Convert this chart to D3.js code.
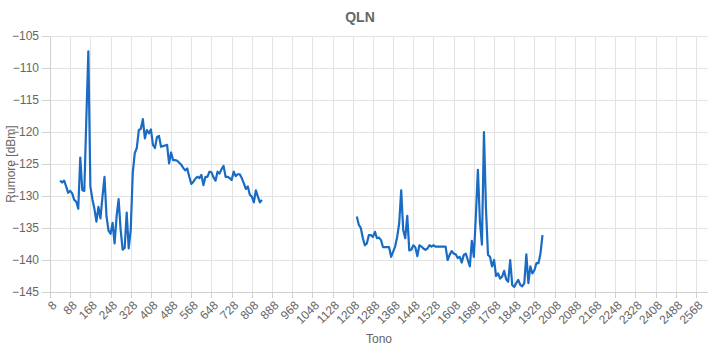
<!DOCTYPE html>
<html lang="en">
<head>
<meta charset="UTF-8">
<title>QLN</title>
<script src="https://d3js.org/d3.v7.min.js"></script>
<style>
  body { margin: 0; background: #fff; }
  svg { display: block; font-family: "Liberation Sans", Arial, sans-serif; }
  .grid line { stroke: #e3e3e3; shape-rendering: crispEdges; }
  .axis text { fill: #666; font-size: 12px; }
  .axis path, .axis line { stroke: #d0d0d0; shape-rendering: crispEdges; }
</style>
</head>
<body>
<svg width="720" height="350"></svg>
<script>
// tone step is 8; the two measured bands
const seg1Start = 48;
const seg1Values = [
  -127.6, -127.9, -127.6, -128.5, -129.5, -129.2, -129.6, -130.6, -130.9, -132.0,
  -124.0, -129.1, -129.2, -118.0, -107.4, -128.5, -130.5, -132.0, -134.0, -131.7,
  -133.5, -130.1, -127.0, -133.2, -135.4, -135.9, -134.2, -137.4, -133.2, -130.5,
  -135.3, -138.4, -138.1, -132.6, -138.2, -135.3, -126.4, -123.3, -122.5, -119.7,
  -119.5, -118.0, -121.0, -119.7, -120.2, -119.6, -122.0, -122.5, -120.8, -120.6,
  -122.3, -122.2, -122.1, -122.0, -124.9, -123.2, -124.4, -124.4, -124.5, -124.8,
  -125.1, -125.6, -126.0, -125.7, -127.0, -128.1, -127.8, -127.3, -127.0, -127.2,
  -126.7, -128.3, -127.0, -127.0, -126.2, -126.3, -127.1, -127.6, -126.2, -126.5,
  -125.8, -125.3, -127.0, -127.0, -127.2, -127.5, -126.2, -126.9, -126.6, -126.6,
  -127.2, -128.0, -128.9, -128.5, -129.8, -130.1, -131.0, -129.1, -130.1, -131.0,
  -130.6
];
const seg2Start = 1224;
const seg2Values = [
  -133.2, -134.5, -135.0, -136.6, -137.7, -137.4, -136.1, -136.1, -136.4, -135.6,
  -136.6, -136.5, -136.9, -138.0, -138.0, -138.0, -138.0, -139.5, -138.7, -137.9,
  -136.4, -134.3, -129.1, -135.3, -136.6, -133.1, -138.5, -138.4, -137.7, -138.0,
  -139.4, -137.7, -137.9, -138.2, -138.4, -138.2, -137.7, -137.9, -137.7, -137.9,
  -137.9, -137.9, -137.9, -137.9, -137.9, -140.0, -139.2, -138.6, -139.0, -139.1,
  -139.7, -139.5, -140.4, -139.2, -139.0, -140.0, -141.0, -137.0, -139.5, -133.0,
  -125.9, -134.0, -137.6, -120.0, -132.0, -139.2, -139.5, -141.0, -140.0, -142.5,
  -142.1, -142.9, -142.6, -141.7, -143.0, -143.4, -140.0, -143.9, -144.2, -143.6,
  -143.1, -143.9, -144.1, -143.6, -139.1, -143.6, -141.0, -142.1, -141.6, -140.5,
  -140.5, -139.0, -136.1
];
const toneStep = 8;
const toneLast = 2616;
const xTicks = [8, 88, 168, 248, 328, 408, 488, 568, 648, 728, 808, 888, 968, 1048,
  1128, 1208, 1288, 1368, 1448, 1528, 1608, 1688, 1768, 1848, 1928, 2008, 2088,
  2168, 2248, 2328, 2408, 2488, 2568];
const yTicks = [-105, -110, -115, -120, -125, -130, -135, -140, -145];

const svg = d3.select("svg"),
      margin = {top: 36, right: 12, bottom: 58, left: 50},
      width = +svg.attr("width") - margin.left - margin.right,
      height = +svg.attr("height") - margin.top - margin.bottom,
      g = svg.append("g").attr("transform", `translate(${margin.left},${margin.top})`);

const x = d3.scaleLinear().domain([8, toneLast]).range([0, width]);
const y = d3.scaleLinear().domain([-145, -105]).range([height, 0]);

// grid
g.append("g").attr("class", "grid")
  .selectAll("line").data(xTicks).join("line")
  .attr("x1", d => Math.round(x(d)) + 0.5).attr("x2", d => Math.round(x(d)) + 0.5)
  .attr("y1", 0).attr("y2", height);
g.append("g").attr("class", "grid")
  .selectAll("line").data(yTicks).join("line")
  .attr("x1", 0).attr("x2", width)
  .attr("y1", d => y(d)).attr("y2", d => y(d));

// axes
const xAxis = g.append("g")
  .attr("class", "axis")
  .attr("transform", `translate(0,${height})`)
  .call(d3.axisBottom(x).tickValues(xTicks).tickFormat(d3.format("d")).tickSizeOuter(0).tickSize(6));
xAxis.selectAll("text")
  .attr("x", 0).attr("y", 0)
  .attr("dy", "0.35em")
  .attr("text-anchor", "end")
  .attr("transform", "translate(4,11) rotate(-45)");
xAxis.select(".domain").attr("d", `M0,0.5H${width}`);

const yAxis = g.append("g")
  .attr("class", "axis")
  .call(d3.axisLeft(y).tickValues(yTicks).tickSize(8).tickSizeOuter(0).tickPadding(3));

// line
const line = d3.line().x(d => x(d[0])).y(d => y(d[1]));
[[seg1Start, seg1Values], [seg2Start, seg2Values]].forEach(([start, vals]) => {
  g.append("path")
    .datum(vals.map((v, i) => [start + i * toneStep, v]))
    .attr("fill", "none")
    .attr("stroke", "#1a6bc4")
    .attr("stroke-width", 2.2)
    .attr("stroke-linejoin", "round")
    .attr("d", line);
});

// labels
svg.append("text")
  .attr("x", 360).attr("y", 22)
  .attr("text-anchor", "middle")
  .attr("font-size", 14).attr("font-weight", "bold").attr("fill", "#666")
  .text("QLN");
svg.append("text")
  .attr("x", margin.left + width / 2).attr("y", 343)
  .attr("text-anchor", "middle")
  .attr("font-size", 12).attr("fill", "#666")
  .text("Tono");
svg.append("text")
  .attr("transform", `translate(15,${margin.top + height / 2}) rotate(-90)`)
  .attr("text-anchor", "middle")
  .attr("font-size", 12).attr("fill", "#666")
  .text("Rumore [dBm]");
</script>
</body>
</html>
